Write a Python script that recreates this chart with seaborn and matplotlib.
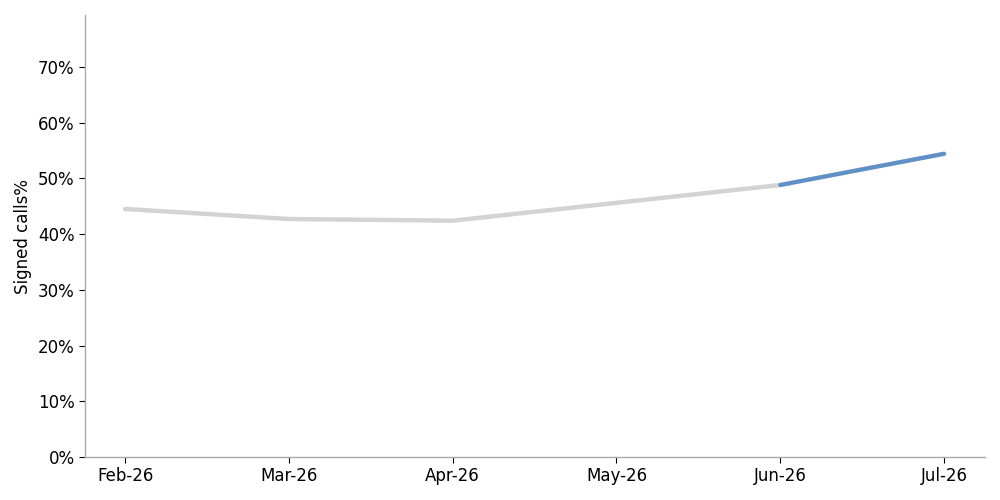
import matplotlib
matplotlib.use("Agg")
import matplotlib.pyplot as plt
import matplotlib.ticker as mticker
import seaborn as sns
import pandas as pd

# data
months = ["Feb-26", "Mar-26", "Apr-26", "May-26", "Jun-26", "Jul-26"]
signed_pct = [0.445, 0.427, 0.424, 0.456, 0.488, 0.544]
highlight_from = 4  # last segment (Jun -> Jul) drawn in blue

df = pd.DataFrame({"month": months, "signed": signed_pct})
df["x"] = range(len(df))

sns.set_style("white")
plt.rcParams.update({"text.color": "black", "axes.labelcolor": "black",
                     "xtick.color": "black", "ytick.color": "black"})
fig, ax = plt.subplots(figsize=(10, 5), dpi=100)

sns.lineplot(data=df, x="x", y="signed", ax=ax, color="#d3d3d3", linewidth=3.2)
sns.lineplot(data=df.iloc[highlight_from:], x="x", y="signed", ax=ax,
             color="#6090c8", linewidth=3.0)

ax.set_xticks(df["x"])
ax.set_xticklabels(months, fontsize=12)
ax.set_xlim(-0.245, len(months) - 1 + 0.25)
ax.set_ylim(0, 0.793)
ax.set_yticks([i / 10 for i in range(8)])
ax.yaxis.set_major_formatter(mticker.PercentFormatter(1.0, decimals=0))
ax.tick_params(axis="y", labelsize=12, left=True, length=4, color="black", labelcolor="black")
ax.tick_params(axis="x", bottom=True, length=4, color="black", labelcolor="black")
ax.set_xlabel("")
ax.set_ylabel("Signed calls%", fontsize=12, color="black")

for side in ["top", "right"]:
    ax.spines[side].set_visible(False)
for side in ["left", "bottom"]:
    ax.spines[side].set_color("#aaaaaa")
    ax.spines[side].set_linewidth(1)

fig.subplots_adjust(left=0.085, right=0.985, top=0.97, bottom=0.086)
fig.savefig("out.png", dpi=100)
